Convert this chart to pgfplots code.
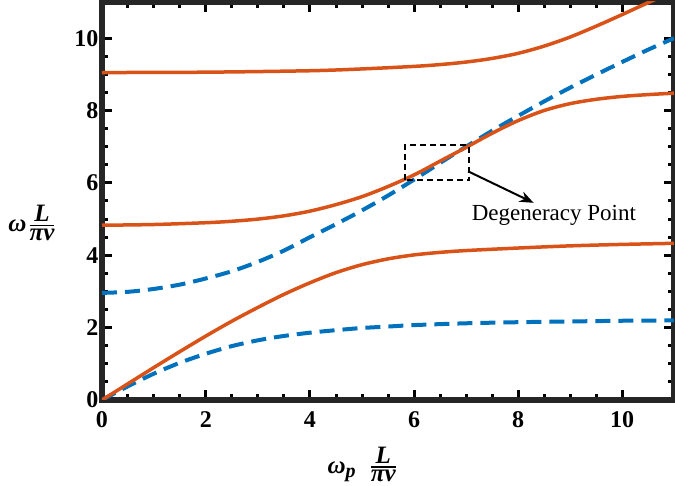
\documentclass[border=0pt]{standalone}
\usepackage{fontspec}
\setmainfont{Liberation Serif}
\usepackage{pgfplots}
\pgfplotsset{compat=1.18}
\usetikzlibrary{arrows.meta}
\definecolor{morange}{RGB}{217,83,25}
\definecolor{mblue}{RGB}{0,114,189}
\begin{document}
\begin{tikzpicture}
\begin{axis}[
 scale only axis, width=572pt, height=398pt,
 xmin=0,xmax=11,ymin=0,ymax=11,
 xtick={0,2,4,6,8,10}, ytick={0,2,4,6,8,10},
 minor tick num=3,
 tick align=inside,
 major tick length=10pt, minor tick length=6pt,
 tick style={line width=3pt, black},
 axis line style={line width=6pt, black!85},
 ticklabel style={font=\fontsize{24}{24}\selectfont\bfseries},
 /pgf/number format/assume math mode=true,
 xticklabel style={yshift=-8pt},
 clip mode=individual,
]
\addplot[mblue, line width=4pt, dash pattern=on 15pt off 8pt, smooth] coordinates {
(0,0) (0.5,0.38) (1,0.73) (1.5,1.03) (2,1.28) (2.5,1.49) (3,1.65) (3.5,1.77) (4,1.86) (4.5,1.93) (5,1.99) (5.5,2.03) (6,2.07) (7,2.12) (8,2.15) (9,2.17) (10,2.19) (11,2.2)};
\addplot[mblue, line width=4pt, dash pattern=on 15pt off 8pt, smooth] coordinates {
(0,2.96) (0.5,2.99) (1,3.07) (1.5,3.19) (2,3.36) (2.5,3.56) (3,3.82) (3.5,4.13) (4,4.5) (4.5,4.86) (5,5.24) (5.5,5.65) (6,6.09) (6.5,6.55) (7,7.0) (7.5,7.44) (8,7.85) (8.5,8.25) (9,8.63) (9.5,8.99) (10,9.34) (10.5,9.68) (11,10.0)};
\addplot[morange, line width=3.5pt, smooth] coordinates {
(0,0) (0.5,0.45) (1,0.9) (1.5,1.34) (2,1.77) (2.5,2.18) (3,2.56) (3.5,2.92) (4,3.24) (4.5,3.52) (5,3.74) (5.5,3.9) (6,4.01) (6.5,4.08) (7,4.13) (8,4.2) (9,4.26) (10,4.3) (11,4.33)};
\addplot[morange, line width=3.5pt, smooth] coordinates {
(0,4.83) (1,4.85) (2,4.9) (2.5,4.94) (3,5.0) (3.5,5.09) (4,5.22) (4.5,5.4) (5,5.62) (5.5,5.9) (6,6.22) (6.5,6.6) (7,6.98) (7.5,7.37) (8,7.72) (8.5,8.0) (9,8.19) (9.5,8.31) (10,8.39) (10.5,8.44) (11,8.48)};
\addplot[morange, line width=3.5pt, smooth] coordinates {
(0,9.05) (2,9.06) (4,9.1) (5,9.15) (6,9.22) (6.5,9.27) (7,9.34) (7.5,9.44) (8,9.58) (8.5,9.78) (9,10.03) (9.5,10.33) (10,10.65) (10.5,10.98) (11,11.3)};
\draw[black, line width=2pt, dash pattern=on 6pt off 4pt] (axis cs:5.83,6.08) rectangle (axis cs:7.06,7.04);
\draw[black, line width=2pt, -{Stealth[length=14pt,width=11pt]}] (axis cs:7.04,6.32) -- (axis cs:8.3,5.45);
\node[anchor=base, inner sep=0pt, font=\fontsize{23}{23}\selectfont] at (axis cs:8.69,4.97) {Degeneracy Point};
\node[inner sep=0pt, anchor=center, font=\fontsize{25}{25}\selectfont\bfseries\itshape] at (rel axis cs:-0.1224,0.4447) {ω\kern2pt${\hbox{L}\above1.8pt\hbox{πv}}$};
\node[inner sep=0pt, anchor=center, font=\fontsize{25}{25}\selectfont\bfseries\itshape] at (rel axis cs:0.455,-0.162) {ω\raisebox{-4pt}{\fontsize{20}{20}\selectfont p}\hspace{14pt}${\hbox{L}\above1.8pt\hbox{πv}}$};
\end{axis}
\pgfresetboundingbox
\path (-102pt,-86pt) rectangle (573pt,400pt);
\end{tikzpicture}
\end{document}
